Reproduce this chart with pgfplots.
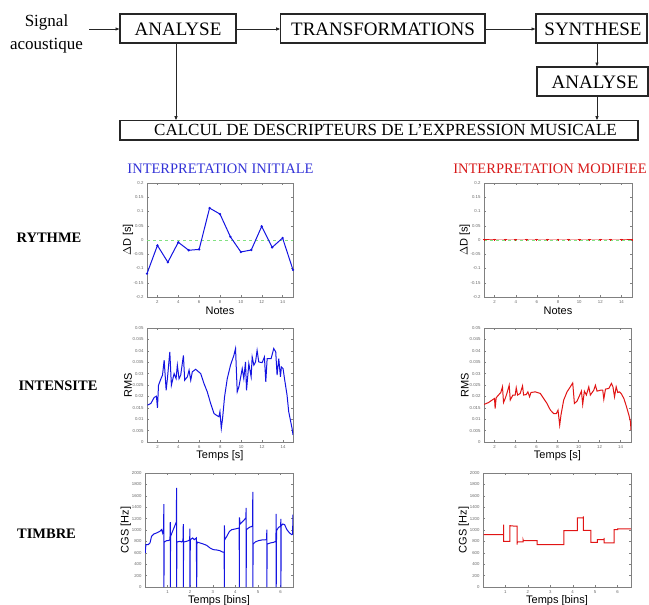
\documentclass[border=0pt]{standalone}
\usepackage{fontspec}
\setmainfont{Liberation Serif}
\setsansfont{Liberation Sans}
\usepackage{pgfplots}
\pgfplotsset{compat=1.18}
\usetikzlibrary{arrows.meta}
\definecolor{mblue}{RGB}{20,20,225}
\definecolor{tblue}{RGB}{50,50,215}
\definecolor{mred}{RGB}{225,20,20}
\definecolor{tred}{RGB}{215,25,25}
\definecolor{mgreen}{RGB}{130,225,130}
\pgfplotsset{
  mstyle/.style={
    scale only axis,
    axis line style={black!50, line width=0.45pt},
    every tick/.style={black!50, line width=0.3pt},
    major tick length=1.8pt,
    tick align=inside,
    xtick pos=both, ytick pos=both,
    tick label style={font=\sffamily\fontsize{4.3}{5}\selectfont, text=black!60},
    /pgf/number format/assume math mode=true,
    /pgf/number format/fixed,
    /pgf/number format/precision=3,
    /pgf/number format/1000 sep={},
    scaled ticks=false,
    label style={font=\sffamily\fontsize{11}{12}\selectfont, text=black},
    ylabel style={at={(axis description cs:-0.13,0.5)}, anchor=center},
    xlabel style={at={(axis description cs:0.5,-0.12)}, anchor=center},
  },
  rythme/.style={mstyle, xmin=1, xmax=15, ymin=-0.2, ymax=0.2,
    xtick={2,4,...,14}, ytick={-0.2,-0.15,...,0.2},
    ylabel={$\Delta$D [s]}, xlabel={Notes}},
  rms/.style={mstyle, ymin=0, ymax=0.05,
    xtick={2,4,...,14}, ytick={0,0.005,...,0.05},
    ylabel={RMS}, xlabel={Temps [s]}},
  cgs/.style={mstyle, ymin=0, ymax=2000,
    xtick={1,...,6}, ytick={0,200,...,2000},
    ylabel={CGS [Hz]}, xlabel={Temps [bins]}},
}
\begin{document}
\begin{tikzpicture}
\useasboundingbox (0pt,0pt) rectangle (649pt,-605pt);
% ---------- flowchart ----------
\begin{scope}[line width=1.1pt, black!85, >={Latex[length=4.5pt,width=3.5pt]}]
\draw (120pt,-14pt) rectangle (236pt,-43pt);
\draw (280.7pt,-14pt) rectangle (485pt,-43pt);
\draw (536pt,-14pt) rectangle (647pt,-43pt);
\draw (537pt,-67pt) rectangle (648pt,-96pt);
\draw (120pt,-120.7pt) rectangle (638pt,-140pt);
\draw[->, line width=0.9pt] (89pt,-29pt) -- (120pt,-29pt);
\draw[->, line width=0.9pt] (236pt,-29pt) -- (280.7pt,-29pt);
\draw[->, line width=0.9pt] (485pt,-29pt) -- (536pt,-29pt);
\draw[->, line width=0.9pt] (176pt,-43pt) -- (176pt,-120.7pt);
\draw[->, line width=0.9pt] (597pt,-43pt) -- (597pt,-67pt);
\draw[->, line width=0.9pt] (597pt,-96pt) -- (597pt,-120.7pt);
\end{scope}
\begin{scope}[every node/.style={anchor=base, inner sep=0pt}]
\node[font=\fontsize{17}{18}\selectfont] at (46.5pt,-27pt) {Signal};
\node[font=\fontsize{17}{18}\selectfont] at (46.5pt,-49.5pt) {acoustique};
\node[font=\fontsize{19}{20}\selectfont] at (178pt,-35.7pt) {ANALYSE};
\node[font=\fontsize{19}{20}\selectfont] at (383pt,-35.7pt) {TRANSFORMATIONS};
\node[font=\fontsize{19}{20}\selectfont] at (593pt,-35.7pt) {SYNTHESE};
\node[font=\fontsize{19}{20}\selectfont] at (595pt,-88.3pt) {ANALYSE};
\node[font=\fontsize{17}{18}\selectfont] at (385.5pt,-135.7pt) {CALCUL DE DESCRIPTEURS DE L’EXPRESSION MUSICALE};
\node[font=\fontsize{14.5}{16}\selectfont, text=tblue] at (220.5pt,-173pt) {INTERPRETATION INITIALE};
\node[font=\fontsize{14.5}{16}\selectfont, text=tred] at (550pt,-173pt) {INTERPRETATION MODIFIEE};
\node[font=\bfseries\fontsize{14.5}{16}\selectfont] at (49pt,-242pt) {RYTHME};
\node[font=\bfseries\fontsize{14.5}{16}\selectfont] at (58pt,-390pt) {INTENSITE};
\node[font=\bfseries\fontsize{14.5}{16}\selectfont] at (46.5pt,-538pt) {TIMBRE};
\end{scope}
% ---------- RYTHME ----------
\begin{axis}[rythme, at={(147pt,-183pt)}, anchor=north west, width=146pt, height=114pt]
\addplot[mgreen, dashed, line width=0.6pt] coordinates {(1,0)(15,0)};
\addplot[mblue, line width=1pt, mark=*, mark size=0.6pt] coordinates {
(1,-0.118)(2,-0.019)(3,-0.078)(4,-0.008)(5,-0.036)(6,-0.033)(7,0.112)(8,0.091)
(9,0.011)(10,-0.042)(11,-0.035)(12,0.048)(13,-0.026)(14,0.007)(15,-0.105)};
\end{axis}
\begin{axis}[rythme, at={(484pt,-183pt)}, anchor=north west, width=148pt, height=114pt]
\addplot[mred, line width=1pt, mark=+, mark size=1.4pt] coordinates {
(1,0)(2,0)(3,0)(4,0)(5,0)(6,0)(7,0)(8,0)(9,0)(10,0)(11,0)(12,0)(13,0)(14,0)(15,0)};
\addplot[mgreen, dashed, line width=0.6pt] coordinates {(1,0)(15,0)};
\end{axis}
% ---------- INTENSITE ----------
\begin{axis}[rms, at={(147pt,-328pt)}, anchor=north west, width=146pt, height=114pt, xmin=1, xmax=14.95]
\addplot[mblue, line width=1pt] coordinates {
(1.05,0.0162)(1.37,0.0169)(1.68,0.0195)(1.9,0.0201)(2.0,0.0150)(2.1,0.0249)(2.32,0.0276)(2.48,0.0293)
(2.64,0.0359)(2.83,0.0227)(2.95,0.0278)(3.18,0.0395)(3.33,0.0249)(3.59,0.0300)(3.78,0.0278)(3.9,0.0337)
(4.06,0.0278)(4.22,0.0293)(4.48,0.0380)(4.6,0.0271)(4.86,0.0286)(5.02,0.0315)(5.18,0.0271)(5.33,0.0308)
(5.65,0.0319)(6.13,0.0300)(6.44,0.0257)(6.76,0.0220)(7.08,0.0169)(7.4,0.0125)(7.71,0.0115)(7.87,0.0111)
(7.97,0.0133)(8.1,0.0060)(8.22,0.0103)(8.41,0.0198)(8.67,0.0278)(8.98,0.0337)(9.3,0.0380)(9.46,0.0410)
(9.62,0.0220)(9.78,0.0242)(10.1,0.0322)(10.25,0.0278)(10.41,0.0351)(10.51,0.0227)(10.73,0.0344)(10.95,0.0286)
(11.05,0.0373)(11.21,0.0337)(11.37,0.0351)(11.52,0.0402)(11.68,0.0351)(12.0,0.0348)(12.22,0.0373)(12.35,0.0264)
(12.48,0.0366)(12.86,0.0366)(13.11,0.0410)(13.3,0.0395)(13.43,0.0293)(13.59,0.0366)(13.75,0.0286)(13.84,0.0329)
(14.0,0.0322)(14.16,0.0271)(14.38,0.0206)(14.54,0.0133)(14.7,0.0096)(14.86,0.0060)(14.95,0.0031)};
\end{axis}
\begin{axis}[rms, at={(484pt,-328pt)}, anchor=north west, width=147pt, height=114pt, xmin=1, xmax=15]
\addplot[mred, line width=1pt] coordinates {
(1.01,0.0165)(1.43,0.0173)(1.9,0.0188)(2.0,0.0191)(2.06,0.0147)(2.16,0.0194)(2.38,0.0206)(2.6,0.0217)
(2.76,0.0242)(2.86,0.0173)(3.02,0.0191)(3.18,0.0213)(3.4,0.0249)(3.5,0.0184)(3.75,0.0206)(3.97,0.0206)
(4.07,0.0238)(4.2,0.0206)(4.45,0.0213)(4.67,0.0246)(4.77,0.0206)(5.02,0.0208)(5.18,0.0220)(5.34,0.0198)
(5.47,0.0217)(5.88,0.0220)(6.36,0.0213)(6.68,0.0191)(7.0,0.0169)(7.32,0.0140)(7.63,0.0125)(7.89,0.0125)
(8.05,0.0140)(8.21,0.0074)(8.33,0.0118)(8.59,0.0184)(8.91,0.0220)(9.22,0.0242)(9.45,0.0259)(9.61,0.0169)
(9.86,0.0179)(10.12,0.0206)(10.28,0.0223)(10.4,0.0165)(10.56,0.0223)(10.75,0.0206)(10.98,0.0242)(11.13,0.0206)
(11.45,0.0227)(11.61,0.0249)(11.77,0.0223)(12.09,0.0227)(12.31,0.0227)(12.41,0.0188)(12.57,0.0232)(12.89,0.0235)
(13.14,0.0257)(13.28,0.0242)(13.43,0.0198)(13.59,0.0242)(13.74,0.0217)(13.9,0.0220)(14.06,0.0213)(14.32,0.0191)
(14.57,0.0155)(14.8,0.0118)(14.95,0.0089)(15.0,0.0052)};
\end{axis}
% ---------- TIMBRE ----------
\begin{axis}[cgs, at={(145pt,-473pt)}, anchor=north west, width=148pt, height=114pt, xmin=0, xmax=6.55]
\addplot[mblue, line width=1pt] coordinates {
(0.01,596)(0.04,743)(0.14,743)(0.22,772)(0.29,889)(0.39,930)(0.51,947)(0.66,977)(0.73,1006)(0.78,947)(0.82,1035)
(0.837,1456)(0.837,0)(0.852,790)(0.96,813)(1.03,813)(1.104,830)(1.118,1140)(1.118,0)(1.133,889)(1.22,977)
(1.28,1035)(1.34,1094)(1.385,1140)(1.399,1737)(1.399,0)(1.414,790)(1.55,801)(1.62,790)(1.68,813)(1.695,1105)
(1.695,0)(1.71,790)(1.84,801)(1.92,813)(1.976,830)(1.991,1023)(1.991,0)(2.006,830)(2.11,860)(2.18,830)
(2.272,860)(2.287,0)(2.302,790)(2.44,772)(2.58,754)(2.73,731)(2.88,684)(3.03,655)(3.18,649)(3.32,637)
(3.43,614)(3.5,614)(3.515,0)(3.515,1082)(3.53,830)(3.62,889)(3.74,977)(3.84,1006)(3.99,1018)(4.166,1035)
(4.18,0)(4.18,1222)(4.21,1105)(4.28,1134)(4.36,1164)(4.462,1211)(4.476,1386)(4.476,0)(4.491,1006)(4.58,1035)
(4.65,1053)(4.757,1064)(4.772,1667)(4.772,0)(4.787,754)(4.88,790)(5.02,813)(5.17,825)(5.379,830)(5.393,1006)
(5.393,0)(5.408,754)(5.54,772)(5.69,784)(5.793,801)(5.808,1281)(5.808,0)(5.822,988)(5.91,1047)(6.0,1064)
(6.015,1193)(6.015,0)(6.03,1076)(6.1,1105)(6.18,1094)(6.28,1006)(6.4,947)(6.5,918)(6.533,930)(6.547,1269)};
\node[font=\sffamily\fontsize{4}{5}\selectfont, text=black!60, anchor=north west, inner sep=0pt] at (rel axis cs:0.97,-0.05) {×10\textsuperscript{4}};
\end{axis}
\begin{axis}[cgs, at={(483pt,-473pt)}, anchor=north west, width=148pt, height=114pt, xmin=0, xmax=6.6]
\addplot[mred, line width=1pt] coordinates {
(0.03,918)(0.5,918)(0.925,918)(0.925,1094)(0.925,801)(1.194,801)(1.194,1076)(1.35,1070)(1.522,1070)
(1.522,743)(1.53,790)(1.791,790)(1.791,825)(1.8,813)(2.418,813)(2.418,743)(3.612,743)(3.612,988)
(4.209,988)(4.209,1211)(4.478,1211)(4.478,1240)(4.478,994)(4.806,994)(4.806,784)(5.104,784)(5.104,830)
(5.403,830)(5.403,860)(5.403,772)(5.851,772)(5.851,1006)(6.0,1006)(6.0,1030)(6.0,1018)(6.6,1018)};
\node[font=\sffamily\fontsize{4}{5}\selectfont, text=black!60, anchor=north west, inner sep=0pt] at (rel axis cs:0.97,-0.05) {×10\textsuperscript{4}};
\end{axis}
\end{tikzpicture}
\end{document}
